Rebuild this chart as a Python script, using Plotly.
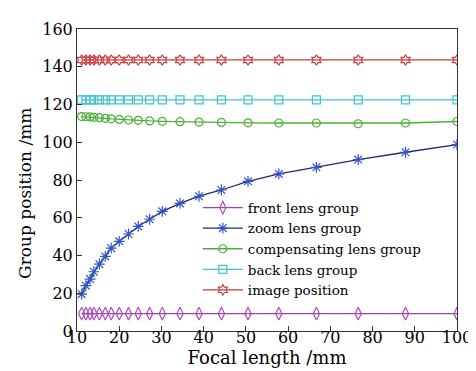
import plotly.graph_objects as go

focal = [11.1, 12.1, 13.1, 14.0, 15.3, 16.7, 18.1, 20.0, 22.2, 24.5, 27.2, 30.2,
         34.4, 38.9, 44.2, 50.5, 57.8, 66.7, 76.6, 87.8, 100.0]
front = [9.2] * 21
zoom = [19.5, 24.0, 27.5, 31.4, 35.4, 39.5, 43.9, 47.5, 51.4, 55.4, 59.2, 63.4,
        67.6, 71.4, 74.7, 79.3, 83.2, 86.7, 90.8, 94.7, 98.8]
comp = [113.6, 113.5, 113.4, 113.2, 113.0, 112.7, 112.4, 112.1, 111.8, 111.6, 111.3,
        111.1, 110.9, 110.7, 110.5, 110.3, 110.2, 110.2, 109.8, 110.2, 111.0]
back = [122.4] * 21
image = [143.6] * 21

names = ["front lens group", "zoom lens group", "compensating lens group",
         "back lens group", "image position"]
series = [front, zoom, comp, back, image]
line_colors = ["#a040a8", "#1e2a6e", "#4caf3a", "#3fc3cf", "#c83a3a"]
marker_colors = ["#b04cc0", "#2f55c8", "#4caf3a", "#3fc3cf", "#d04040"]
symbols = ["diamond-tall-open", "asterisk-open", "circle-open", "square-open", "hexagram-open"]
sizes = [9, 9, 8, 8, 8]

fig = go.Figure()
for n, y, lc, mc, s, sz in zip(names, series, line_colors, marker_colors, symbols, sizes):
    fig.add_trace(go.Scatter(
        x=focal, y=y, name=n, mode="lines+markers",
        line=dict(color=lc, width=1.3),
        marker=dict(symbol=s, size=sz, color=mc, line=dict(color=mc, width=1.2)),
    ))

axis_font = dict(family="DejaVu Serif", size=16, color="black")
fig.update_layout(
    width=476, height=371,
    margin=dict(l=69, r=17, t=19, b=48),
    paper_bgcolor="white", plot_bgcolor="white",
    font=dict(family="DejaVu Serif", color="black"),
    showlegend=True,
    legend=dict(x=0.318, y=0.459, xanchor="left", yanchor="top",
                bgcolor="rgba(255,255,255,0)", borderwidth=0,
                font=dict(family="DejaVu Serif", size=13.5, color="black"),
                tracegroupgap=0, itemwidth=40),
    xaxis=dict(range=[10, 100], dtick=10, tick0=10, showgrid=False, zeroline=False,
               showline=True, linecolor="#333", linewidth=1, mirror=True,
               ticks="inside", ticklen=5, tickcolor="#333",
               tickfont=axis_font, ticklabelstandoff=-8,
               title=dict(text="Focal length /mm", font=dict(family="DejaVu Serif", size=18, color="black"),
                          standoff=4)),
    yaxis=dict(range=[0, 160], dtick=20, showgrid=False, zeroline=False,
               showline=True, linecolor="#333", linewidth=1, mirror=True,
               ticks="inside", ticklen=5, tickcolor="#333",
               tickfont=axis_font),
    annotations=[dict(text="Group position /mm", xref="paper", yref="paper",
                      x=0, y=0.454, xshift=-52, xanchor="center", yanchor="middle",
                      textangle=-90, showarrow=False,
                      font=dict(family="DejaVu Serif", size=17, color="black"))],
)

fig.write_html("out.html")
